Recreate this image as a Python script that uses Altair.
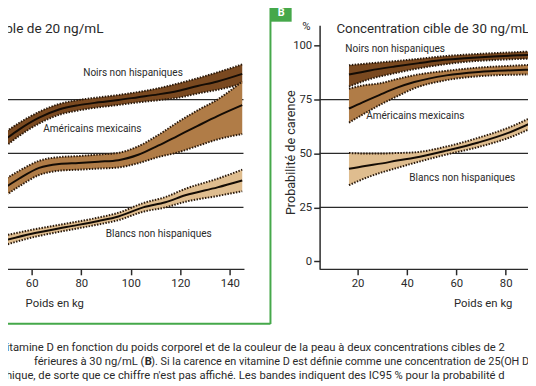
import altair as alt
import pandas as pd

# ---------------- Panel A : target concentration 20 ng/mL ----------------
A_NOIRS_KG = [47, 55, 63, 71, 79, 87, 95, 103, 111, 119, 127, 135, 145]
A_NOIRS_C = [54.5, 61.2, 66.6, 70.4, 72.4, 73.7, 74.8, 76.1, 77.4, 79.0, 81.3, 83.4, 86.9]
A_NOIRS_LO = [51.0, 58.2, 63.9, 67.9, 70.0, 71.4, 72.5, 73.7, 74.7, 75.8, 77.8, 79.5, 82.3]
A_NOIRS_HI = [58.0, 64.2, 69.3, 72.9, 74.8, 76.0, 77.1, 78.5, 80.2, 82.4, 84.9, 87.6, 91.3]

A_MEX_KG = [47, 55, 63, 71, 79, 87, 95, 103, 111, 119, 127, 135, 145]
A_MEX_C = [32.5, 38.4, 43.3, 45.1, 45.6, 46.2, 46.9, 49.4, 53.6, 58.2, 62.8, 67.3, 72.4]
A_MEX_LO = [28.5, 34.8, 40.0, 42.0, 42.5, 43.0, 43.5, 45.5, 48.3, 50.5, 53.5, 56.5, 59.0]
A_MEX_HI = [36.5, 42.0, 46.6, 48.3, 48.8, 49.5, 50.3, 53.3, 58.5, 64.5, 70.0, 75.0, 83.4]

A_BL_KG = [47, 60, 74, 87, 95, 105, 114, 122, 135, 145]
A_BL_C = [9.1, 12.8, 15.9, 18.7, 20.8, 25.0, 27.4, 30.6, 34.3, 37.5]
A_BL_LO = [6.8, 11.0, 14.3, 17.1, 19.1, 23.0, 25.0, 27.6, 30.3, 32.5]
A_BL_HI = [11.4, 14.6, 17.5, 20.3, 22.5, 27.0, 29.8, 33.6, 38.3, 42.5]

# ---------------- Panel B : target concentration 30 ng/mL ----------------
B_NOIRS_KG = [16.5, 25, 35, 45, 55, 65, 75, 85, 90]
B_NOIRS_C = [86.6, 88.5, 90.3, 91.9, 93.4, 94.3, 95.0, 95.5, 95.7]
B_NOIRS_LO = [81.0, 84.5, 87.2, 89.5, 91.3, 92.6, 93.3, 93.8, 94.0]
B_NOIRS_HI = [90.9, 91.8, 92.8, 93.9, 95.1, 95.9, 96.5, 97.0, 97.3]

B_MEX_KG = [16.5, 22, 29, 36, 43, 56, 69, 83, 90]
B_MEX_C = [70.8, 73.7, 77.2, 80.5, 83.1, 86.2, 87.8, 88.6, 88.9]
B_MEX_LO = [64.3, 68.0, 72.5, 76.5, 80.2, 84.0, 85.8, 86.5, 86.6]
B_MEX_HI = [80.0, 81.5, 82.5, 84.5, 86.3, 88.3, 89.8, 90.7, 91.1]

B_BL_KG = [16.5, 23, 30, 36, 43, 56, 69, 83, 90]
B_BL_C = [42.9, 44.2, 45.4, 46.7, 48.0, 51.3, 55.1, 60.4, 64.0]
B_BL_LO = [35.3, 38.5, 41.3, 43.3, 45.6, 49.5, 53.0, 58.0, 61.5]
B_BL_HI = [50.2, 50.0, 50.0, 50.2, 50.5, 53.2, 57.3, 62.8, 66.5]

GROUPS = ["Noirs non hispaniques", "Américains mexicains", "Blancs non hispaniques"]

A_LABEL_KG = [100.9, 84.5, 111.3]
A_LABEL_Y = [87.5, 61.2, 12.8]
B_LABEL_KG = [35.2, 43.4, 62.4]
B_LABEL_Y = [98.2, 67.3, 38.4]

RULE_VALUES = [25, 50, 75]
A_RULE_SPAN = [40, 145.5]
B_RULE_SPAN = [4.6, 90]

X_TICKS_A = [60, 80, 100, 120, 140]
X_TICKS_B = [20, 40, 60, 80]
Y_TICKS = [0, 25, 50, 75, 100]

TITLE_A = "Concentration cible de 20 ng/mL"
TITLE_B = "Concentration cible de 30 ng/mL"
CAPTION_1 = "vitamine D en fonction du poids corporel et de la couleur de la peau à deux concentrations cibles de 2"
CAPTION_2A = "férieures à 30 ng/mL ("
CAPTION_2B = "B"
CAPTION_2C = "). Si la carence en vitamine D est définie comme une concentration de 25(OH D"
CAPTION_3 = "phique, de sorte que ce chiffre n'est pas affiché. Les bandes indiquent des IC95 % pour la probabilité d"

# ---------------- styling ----------------
FONT = "Roboto"
INK = "#2a2a2a"
GREEN = "#45a84a"
FILL = {
    "Noirs non hispaniques": "#7a4920",
    "Américains mexicains": "#b07c47",
    "Blancs non hispaniques": "#dfbd8f",
}
EDGE = "#2a190b"
CAP_SIZE = 11.4

YSCALE = alt.Scale(domain=[-3.65, 109.4], range=[262.3, 14.7], nice=False, zero=False)
YAXIS = alt.Axis(
    orient="left", offset=-316.4, values=Y_TICKS, grid=False,
    tickSize=6, tickWidth=1.5, tickColor=INK, domainColor=INK, domainWidth=1.5,
    labelFont=FONT, labelFontSize=11.5, labelColor=INK, labelPadding=2,
    titleFont=FONT, titleFontSize=12.8, titleFontWeight="normal", titleColor=INK,
    titleAngle=-90, titleX=-29, titleY=143.5, titleAlign="center", titleBaseline="middle",
)


def yenc(field):
    return alt.Y(f"{field}:Q", scale=YSCALE, axis=YAXIS, title="Probabilité de carence", stack=None)


def make_xaxis(values, title_x):
    return alt.Axis(
        orient="bottom", values=values, grid=False,
        tickSize=6, tickWidth=1.5, tickColor=INK, domainColor=INK, domainWidth=1.5,
        labelFont=FONT, labelFontSize=11.5, labelColor=INK, labelPadding=3,
        titleFont=FONT, titleFontSize=11.5, titleFontWeight="normal", titleColor=INK,
        titleX=title_x, titleY=35, titleAlign="center", titleBaseline="middle",
    )


def panel(xscale, xaxis, bands, label_kg, label_y, rule_span):
    def xenc(field):
        return alt.X(f"{field}:Q", scale=xscale, axis=xaxis, title="Poids en kg")

    layers = []
    rules = pd.DataFrame({"v": RULE_VALUES, "x0": [rule_span[0]] * 3, "x1": [rule_span[1]] * 3})
    layers.append(
        alt.Chart(rules).mark_rule(color=INK, strokeWidth=1.3).encode(
            y=yenc("v"), x=xenc("x0"), x2="x1"
        )
    )
    for g, (kg, c, lo, hi) in zip(GROUPS, bands):
        df = pd.DataFrame({"kg": kg, "c": c, "lo": lo, "hi": hi})
        base = alt.Chart(df)
        layers.append(
            base.mark_area(color=FILL[g], opacity=1, interpolate="monotone").encode(
                x=xenc("kg"), y=yenc("lo"), y2="hi"
            )
        )
        for f in ("lo", "hi"):
            layers.append(
                base.mark_line(color=EDGE, strokeWidth=2, strokeDash=[1.5, 1.4], interpolate="monotone").encode(
                    x=xenc("kg"), y=yenc(f)
                )
            )
        layers.append(
            base.mark_line(color="#140c05", strokeWidth=2, interpolate="monotone").encode(
                x=xenc("kg"), y=yenc("c")
            )
        )
    lab = pd.DataFrame({"kg": label_kg, "y": label_y, "label": GROUPS})
    layers.append(
        alt.Chart(lab).mark_text(font=FONT, fontSize=10.2, color=INK, align="center", baseline="middle").encode(
            x=xenc("kg"), y=yenc("y"), text="label:N"
        )
    )
    return alt.layer(*layers)


left = panel(
    alt.Scale(domain=[40, 145.7], range=[-26.2, 239.6], nice=False, zero=False),
    make_xaxis(X_TICKS_A, 47),
    [
        (A_NOIRS_KG, A_NOIRS_C, A_NOIRS_LO, A_NOIRS_HI),
        (A_MEX_KG, A_MEX_C, A_MEX_LO, A_MEX_HI),
        (A_BL_KG, A_BL_C, A_BL_LO, A_BL_HI),
    ],
    A_LABEL_KG, A_LABEL_Y, A_RULE_SPAN,
)

right = panel(
    alt.Scale(domain=[4.6, 90], range=[316.4, 530.35], nice=False, zero=False),
    make_xaxis(X_TICKS_B, 482),
    [
        (B_NOIRS_KG, B_NOIRS_C, B_NOIRS_LO, B_NOIRS_HI),
        (B_MEX_KG, B_MEX_C, B_MEX_LO, B_MEX_HI),
        (B_BL_KG, B_BL_C, B_BL_LO, B_BL_HI),
    ],
    B_LABEL_KG, B_LABEL_Y, B_RULE_SPAN,
)

one = pd.DataFrame({"a": [0]})


def text_at(txt, x, y, size, align="left", weight="normal", color=INK, baseline="middle"):
    return alt.Chart(one).mark_text(
        text=txt, font=FONT, fontSize=size, fontWeight=weight, color=color, align=align, baseline=baseline
    ).encode(x=alt.value(x), y=alt.value(y))


decor = [
    # green frame
    alt.Chart(one).mark_rule(color=GREEN, strokeWidth=2).encode(
        x=alt.value(266.5), y=alt.value(-8), y2=alt.value(318)
    ),
    alt.Chart(one).mark_rule(color=GREEN, strokeWidth=2).encode(
        x=alt.value(-8), x2=alt.value(266.5), y=alt.value(317.7)
    ),
    alt.Chart(one).mark_rect(color=GREEN).encode(
        x=alt.value(266.5), x2=alt.value(288), y=alt.value(-8), y2=alt.value(11)
    ),
    text_at("B", 277.5, 2, 11, align="center", weight="bold", color="white"),
    # panel titles
    text_at(TITLE_A, 97, 18.7, 13.8, align="right"),
    text_at(TITLE_B, 333.5, 18.7, 13.5, align="left"),
    text_at("%", 303, 16, 11.5, align="center"),
    # caption
    text_at(CAPTION_1, -7, 342, CAP_SIZE),
    text_at(CAPTION_2A, 138.5, 356.7, CAP_SIZE, align="right"),
    text_at(CAPTION_2B, 138.8, 356.7, CAP_SIZE, weight="bold"),
    text_at(CAPTION_2C, 145.5, 356.7, 11.0),
    text_at(CAPTION_3, -8.5, 371.3, CAP_SIZE),
]

chart = (
    alt.layer(left, right, *decor)
    .resolve_scale(x="independent")
    .properties(
        width=528,
        height=262,
        padding={"left": 0, "top": 0, "right": 0, "bottom": 116},
        autosize=alt.AutoSizeParams(type="none"),
        background="white",
    )
    .configure_view(stroke=None)
)

chart.save("out.html", embed_options={"renderer": "svg", "actions": False})
